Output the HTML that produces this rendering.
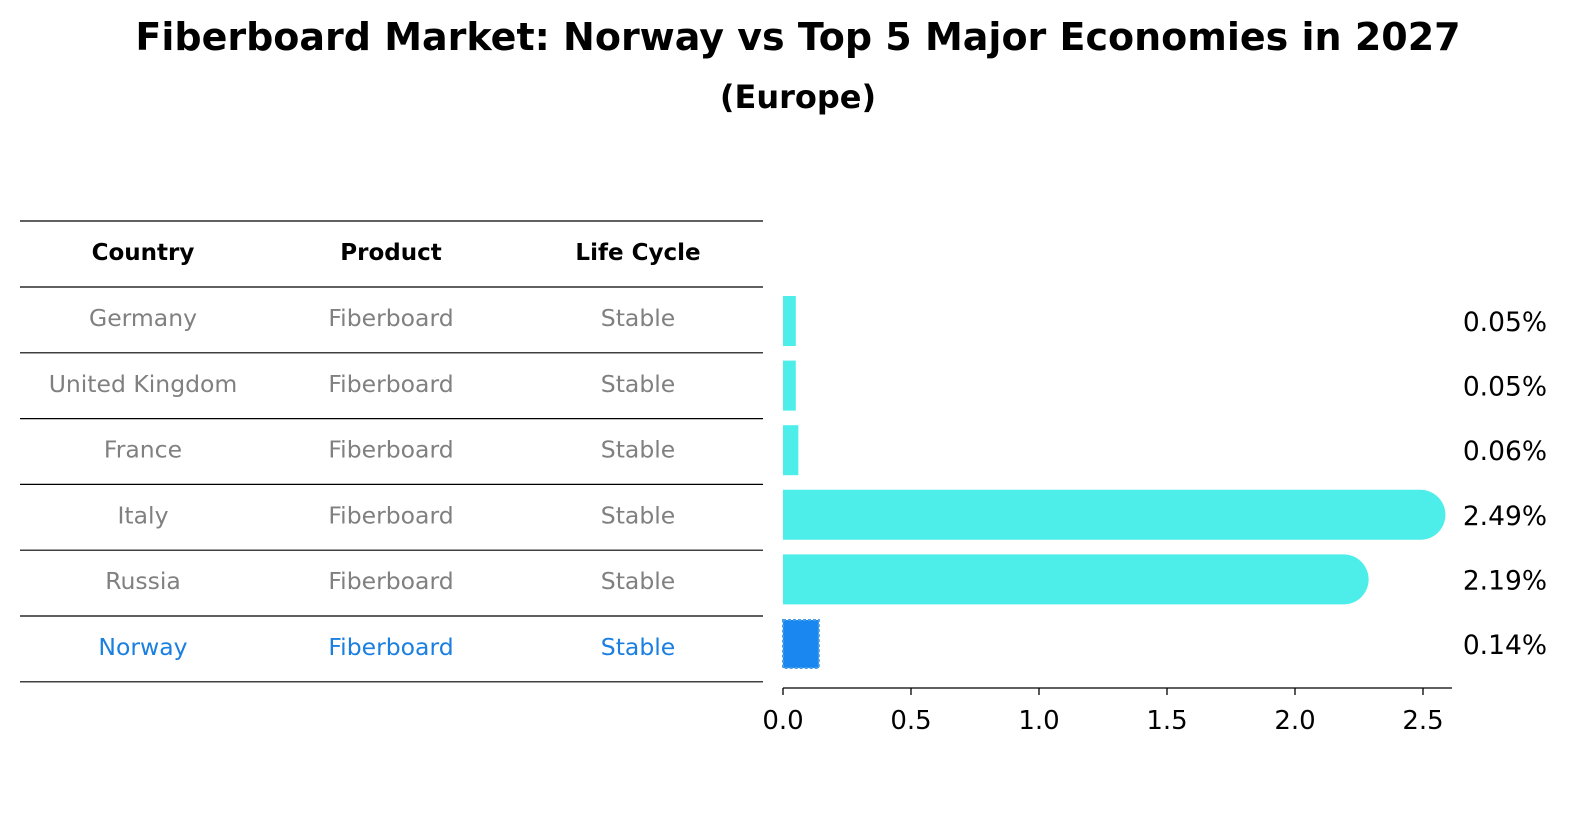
<!DOCTYPE html>
<html><head><meta charset="utf-8"><style>
html,body{margin:0;padding:0;background:#fff;overflow:hidden;width:1586px;height:823px;}
svg{display:block;}
svg text{font-family:"DejaVu Sans","Liberation Sans",sans-serif;}
</style></head><body>
<svg id="c" width="1586" height="823" xmlns="http://www.w3.org/2000/svg">
<text x="798" y="50" text-anchor="middle" font-size="38" font-weight="bold">Fiberboard Market: Norway vs Top 5 Major Economies in 2027</text>
<text x="798" y="108" text-anchor="middle" font-size="32" font-weight="bold">(Europe)</text>
<g id="tbl"></g>
<g id="bars"></g>
</svg>
<script>
const countries=["Germany","United Kingdom","France","Italy","Russia","Norway"];
const products=["Fiberboard","Fiberboard","Fiberboard","Fiberboard","Fiberboard","Fiberboard"];
const cycles=["Stable","Stable","Stable","Stable","Stable","Stable"];
const values=[0.05,0.05,0.06,2.49,2.19,0.14];
const valueLabels=["0.05%","0.05%","0.06%","2.49%","2.19%","0.14%"];
const ticks=[0,0.5,1.0,1.5,2.0,2.5];
const tickLabels=["0.0","0.5","1.0","1.5","2.0","2.5"];
const NS="http://www.w3.org/2000/svg";
function mk(p,t,a,txt){const e=document.createElementNS(NS,t);for(const k in a)e.setAttribute(k,a[k]);if(txt!==undefined)e.textContent=txt;p.appendChild(e);return e;}
const tbl=document.getElementById('tbl'),bars=document.getElementById('bars');
const x0=783,ppu=256;
const xs=v=>x0+v*ppu;
const rowY=i=>287+i*65.8;
for(let i=0;i<=7;i++){const y=i==0?221:rowY(i-1);
 const l=mk(tbl,'line',{x1:20,x2:763,y1:y,y2:y,stroke:'#000','stroke-width':1.2});
 
 }
const colX=[143,391,638];
["Country","Product","Life Cycle"].forEach((h,j)=>{
 const t=mk(tbl,'text',{x:colX[j],y:260,'text-anchor':'middle','font-size':23,'font-weight':'bold'},h);
 
 });
countries.forEach((c,i)=>{
 const col=c==="Norway"?'#1a7fe0':'#808080';
 const cy=rowY(i)+39;
 [c,products[i],cycles[i]].forEach((v,j)=>{
  const t=mk(tbl,'text',{x:colX[j],y:cy,'text-anchor':'middle','font-size':23.5,fill:col},v);
  
  });
});
const barCY=i=>321+i*64.6, bh=50;
values.forEach((v,i)=>{
 const cy=barCY(i),w=xs(v)-x0;
 let b;
 if(countries[i]==="Norway"){
  b=mk(bars,'rect',{x:x0,y:cy-bh/2+1,width:w,height:bh-2,fill:'#1a87f0',stroke:'#4a9ee8','stroke-width':2,'stroke-dasharray':'3,2'});
 }else if(w>bh){
  b=mk(bars,'path',{d:`M${x0},${cy-bh/2}H${x0+w}A${bh/2},${bh/2} 0 0 1 ${x0+w},${cy+bh/2}H${x0}Z`,fill:'#4deeea'});
 }else{
  b=mk(bars,'rect',{x:x0,y:cy-bh/2,width:w,height:bh,fill:'#4deeea'});
 }
 
 
 const t=mk(bars,'text',{x:1547,y:cy+10,'text-anchor':'end','font-size':26.5},valueLabels[i]);
 
 
});
const ax=mk(bars,'line',{x1:x0,x2:1452,y1:688,y2:688,stroke:'#000','stroke-width':1.3});


ticks.forEach((t,i)=>{
 const tk=mk(bars,'line',{x1:xs(t),x2:xs(t),y1:688,y2:695,stroke:'#000','stroke-width':1.3});
 
 
 const lb=mk(bars,'text',{x:xs(t),y:729,'text-anchor':'middle','font-size':26},tickLabels[i]);
 
 
});
</script>
</body></html>
